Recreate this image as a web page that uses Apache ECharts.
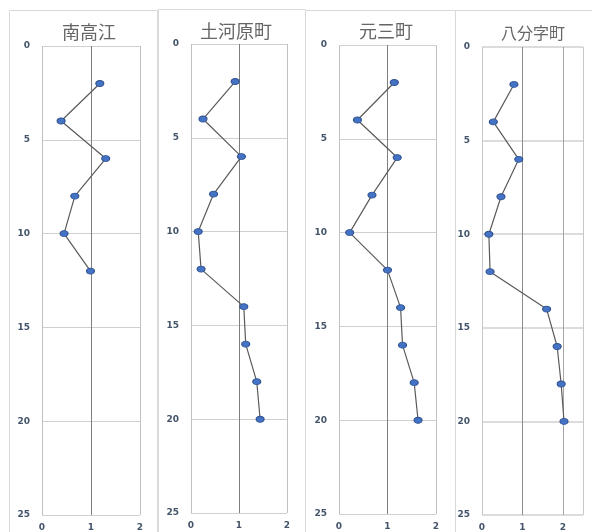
<!DOCTYPE html>
<html>
<head>
<meta charset="utf-8">
<script src="https://cdn.jsdelivr.net/npm/echarts@6/dist/echarts.min.js"></script>
<style>
  html, body { margin: 0; padding: 0; background: #fff; }
  #chart { width: 592px; height: 532px; }
</style>
</head>
<body>
<div id="chart"></div>
<script>
// depth (m) on the inverted y axis, measured value on x
var names = ['南高江', '土河原町', '元三町', '八分字町'];
var depthShort = [2, 4, 6, 8, 10, 12];
var depthLong = [2, 4, 6, 8, 10, 12, 14, 16, 18, 20];
var valsMinamiTakae = [1.18, 0.39, 1.3, 0.67, 0.45, 0.99];
var valsTsuchigawara = [0.92, 0.25, 1.05, 0.47, 0.15, 0.21, 1.1, 1.14, 1.37, 1.44];
var valsMotosan = [1.14, 0.38, 1.2, 0.68, 0.22, 1.0, 1.27, 1.31, 1.55, 1.63];
var valsHachibuji = [0.79, 0.28, 0.91, 0.47, 0.17, 0.2, 1.6, 1.86, 1.96, 2.03];
var xMax = [2, 2, 2, 2.5];

var chart = echarts.init(document.getElementById('chart'));

// plot boxes and panel frames
var grids = [
  {left: 42, top: 46, width: 98, height: 469},
  {left: 191, top: 44, width: 96, height: 469},
  {left: 339, top: 45, width: 97, height: 469},
  {left: 482, top: 47, width: 101, height: 469}
];
var frames = [[9, 10, 148], [158, 9, 147], [305, 10, 150], [455, 10, 150]];
var titlePos = [[84, 18, 18], [231, 17, 18], [381, 17, 18], [528, 20, 16]];

var seriesData = [
  {d: depthShort, v: valsMinamiTakae},
  {d: depthLong, v: valsTsuchigawara},
  {d: depthLong, v: valsMotosan},
  {d: depthLong, v: valsHachibuji}
];

var labelStyle = {
  color: '#44546a',
  fontFamily: 'DejaVu Sans',
  fontWeight: 'bold',
  fontSize: 9
};

var xAxes = [], yAxes = [], series = [], titles = [], graphics = [];
for (var i = 0; i < 4; i++) {
  var lineColors = i < 3 ? ['#c0c0c0', '#7f7f7f', '#c0c0c0'] : ['#c8c8c8', '#8c8c8c', '#a6a6a6', '#c8c8c8'];
  xAxes.push({
    type: 'value', gridIndex: i, min: 0, max: xMax[i], interval: 1,
    axisLine: {show: false}, axisTick: {show: false},
    axisLabel: Object.assign({margin: 8, formatter: function(v) { return v % 1 ? '' : v; }}, labelStyle),
    splitLine: {show: true, lineStyle: {color: lineColors, width: 1}}
  });
  yAxes.push({
    type: 'value', gridIndex: i, min: 0, max: 25, interval: 5, inverse: true,
    axisLine: {show: false}, axisTick: {show: false},
    axisLabel: Object.assign({margin: 12}, labelStyle),
    splitLine: {show: true, lineStyle: {color: i < 3 ? '#d0d0d0' : '#dcdcdc', width: i < 3 ? 1 : 2}}
  });
  var pts = [];
  for (var j = 0; j < seriesData[i].v.length; j++) {
    pts.push([seriesData[i].v[j], seriesData[i].d[j]]);
  }
  series.push({
    name: names[i], type: 'line', xAxisIndex: i, yAxisIndex: i,
    data: pts, symbol: 'circle', symbolSize: [8, 6],
    lineStyle: {color: '#5a5a5a', width: 1.2},
    itemStyle: {color: '#4472c4', borderColor: '#2f528f', borderWidth: 1},
    animation: false
  });
  titles.push({
    text: names[i], left: titlePos[i][0], top: titlePos[i][1], textAlign: 'center',
    textStyle: {color: '#666666', fontWeight: 'normal', fontSize: titlePos[i][2], fontFamily: 'Noto Sans CJK JP'}
  });
  graphics.push({
    type: 'rect', z: -1,
    shape: {x: frames[i][0] + 0.5, y: frames[i][1] + 0.5, width: frames[i][2], height: 560},
    style: {fill: '#fff', stroke: '#d9d9d9', lineWidth: 1}
  });
}

chart.setOption({
  backgroundColor: '#fff',
  title: titles,
  grid: grids,
  xAxis: xAxes,
  yAxis: yAxes,
  series: series,
  graphic: graphics
});
</script>
</body>
</html>
